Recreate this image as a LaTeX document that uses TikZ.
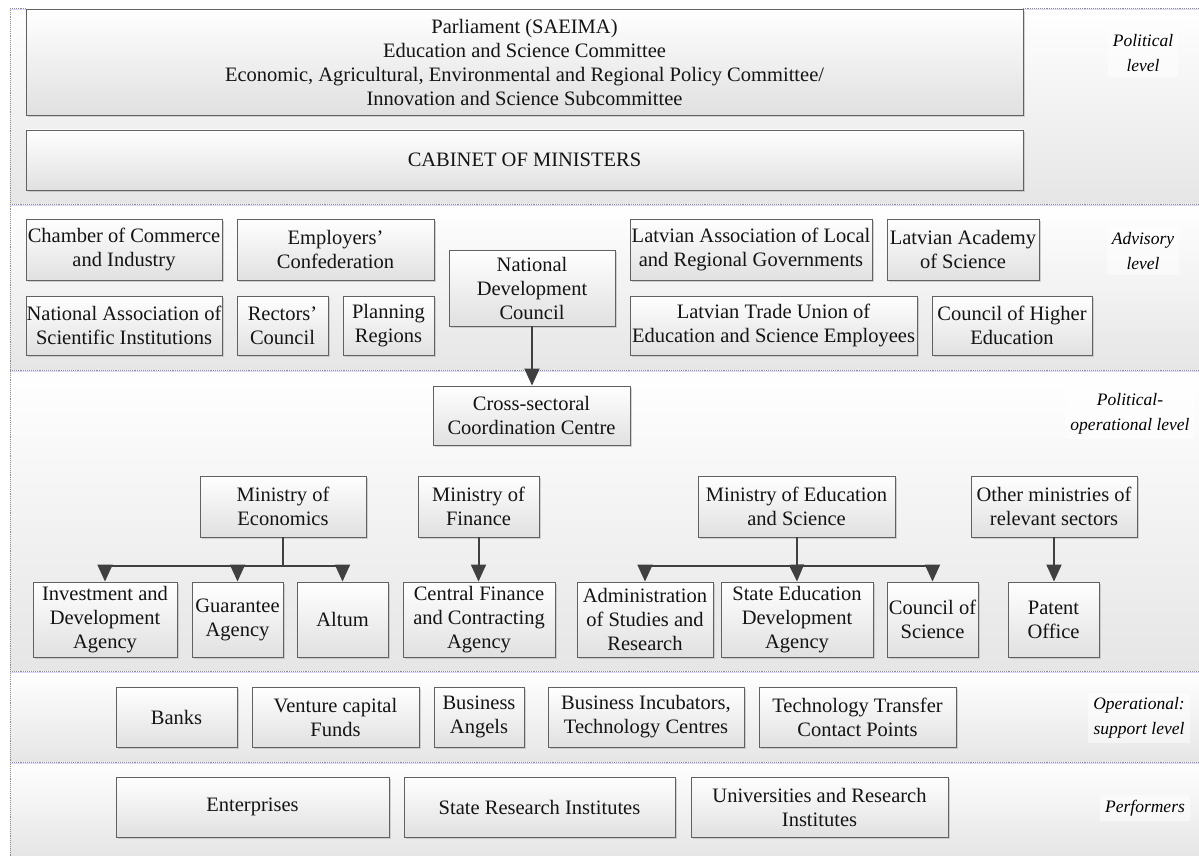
\documentclass[tikz,border=0pt]{standalone}
\usepackage{fontspec}
\setmainfont{Liberation Serif}
\usetikzlibrary{arrows.meta,shadows,calc}
\tikzset{
 bx/.style={draw=black!62, line width=0.9pt, top color=white, bottom color=black!12,
   drop shadow={shadow xshift=2.2pt, shadow yshift=-2.2pt, fill=black!30, opacity=0.55},
   align=center, inner sep=0pt, font=\fontsize{20.5}{24}\selectfont, text=black!92},
 lvl/.style={font=\fontsize{17.5}{25}\selectfont\itshape, align=center, fill=white, fill opacity=0.5, text opacity=1, inner sep=5pt},
 ln/.style={draw=black!75, line width=2pt},
 ar/.style={ln, -{Triangle[width=15pt,length=17pt]}},
 sep/.style={draw=black!45, densely dotted, line width=0.9pt},
 band/.style={top color=white, bottom color=black!10, draw=none},
}
\newcommand\mybox[6]{\node[bx, minimum width={(#4-#2)*1pt}, minimum height={(#5-#3)*1pt}] (#1) at ({(#2+#4)/2},{(#3+#5)/2}) {#6};}
\begin{document}
\begin{tikzpicture}[x=1pt,y=-1pt]
\useasboundingbox (0,0) rectangle (1199,856);
\fill[white] (0,0) rectangle (1199,856);
% bands
\shade[band] (10,8) rectangle (1199,204);
\shade[band] (10,204) rectangle (1199,370);
\shade[band] (10,370) rectangle (1199,671);
\shade[band] (10,671) rectangle (1199,762);
\shade[band] (10,762) rectangle (1199,856);
\foreach \yy in {8,204,370,671,762} {
  \draw[black!8!blue!15, line width=0.8pt] (10,\yy+1.5) -- (1199,\yy+1.5);
  \draw[sep] (10,\yy) -- (1199,\yy);
}
\draw[sep] (10,8) -- (10,856);
% level labels
\node[lvl] (l1) at (1143,53) {Political\\level};
\node[lvl] (l2) at (1143,251) {Advisory\\level};
\node[lvl] (l3) at (1130,414) {Political-\\operational level};
\node[lvl] (l4) at (1139,718) {Operational:\\support level};
\node[lvl] (l5) at (1145,808) {Performers};
% political level
\mybox{parl}{26}{9}{1023}{115}{Parliament (SAEIMA)\\Education and Science Committee\\Economic, Agricultural, Environmental and Regional Policy Committee/\\Innovation and Science Subcommittee}
\mybox{cab}{26}{130}{1023}{190}{CABINET OF MINISTERS}
% advisory level
\mybox{chamber}{26}{219}{222}{280}{Chamber of Commerce\\and Industry}
\mybox{employers}{237}{219}{434}{280}{Employers’\\Confederation}
\mybox{natassoc}{26}{296}{222}{355}{National Association of\\Scientific Institutions}
\mybox{rectors}{237}{296}{328}{355}{Rectors’\\Council}
\mybox{planning}{343}{296}{434}{355}{Planning\\Regions}
\mybox{ndc}{449}{250}{615}{326}{National\\Development\\Council}
\mybox{lalrg}{630}{219}{872}{280}{Latvian Association of Local\\and Regional Governments}
\mybox{academy}{887}{219}{1039}{280}{Latvian Academy\\of Science}
\mybox{union}{630}{296}{917}{355}{Latvian Trade Union of\\Education and Science Employees}
\mybox{che}{932}{296}{1092}{355}{Council of Higher\\Education}
% political-operational level
\mybox{ccc}{433}{386}{630}{445}{Cross-sectoral\\Coordination Centre}
\mybox{moe}{200}{476}{366}{537}{Ministry of\\Economics}
\mybox{mof}{418}{476}{539}{537}{Ministry of\\Finance}
\mybox{mes}{698}{476}{895}{537}{Ministry of Education\\and Science}
\mybox{oth}{971}{476}{1137}{537}{Other ministries of\\relevant sectors}
\mybox{inv}{33}{582}{177}{657}{Investment and\\Development\\Agency}
\mybox{guar}{192}{582}{283}{657}{Guarantee\\Agency}
\mybox{altum}{297}{582}{388}{657}{Altum}
\mybox{cfca}{403}{582}{555}{657}{Central Finance\\and Contracting\\Agency}
\mybox{asr}{577}{582}{713}{657}{Administration\\of Studies and\\Research}
\mybox{seda}{721}{582}{873}{657}{State Education\\Development\\Agency}
\mybox{cos}{887}{582}{978}{657}{Council of\\Science}
\mybox{pat}{1008}{582}{1099}{657}{Patent\\Office}
% operational support level
\mybox{banks}{116}{687}{237}{747}{Banks}
\mybox{venture}{252}{687}{419}{747}{Venture capital\\Funds}
\mybox{angels}{434}{687}{524}{747}{Business\\Angels}
\mybox{incub}{548}{687}{744}{747}{Business Incubators,\\Technology Centres}
\mybox{ttcp}{759}{687}{956}{747}{Technology Transfer\\Contact Points}
% performers
\mybox{ent}{116}{777}{389}{837}{Enterprises}
\mybox{sri}{404}{777}{675}{837}{State Research Institutes}
\mybox{univ}{691}{777}{948}{837}{Universities and Research\\Institutes}
% connectors
\draw[ar] (ndc.south) -- (ndc.south |- ccc.north);
\coordinate (ebus) at ($(moe.south)+(0,29)$);
\draw[ln] (moe.south) -- (ebus);
\draw[ar] (ebus) -| (inv.north);
\draw[ar] (ebus) -| (guar.north);
\draw[ar] (ebus) -| (altum.north);
\draw[ar] (mof.south) -- (mof.south |- cfca.north);
\coordinate (sbus) at ($(mes.south)+(0,29)$);
\draw[ln] (mes.south) -- (sbus);
\draw[ar] (sbus) -| (asr.north);
\draw[ar] (sbus) -- (seda.north);
\draw[ar] (sbus) -| (cos.north);
\draw[ar] (oth.south) -- (oth.south |- pat.north);
\end{tikzpicture}
\end{document}
